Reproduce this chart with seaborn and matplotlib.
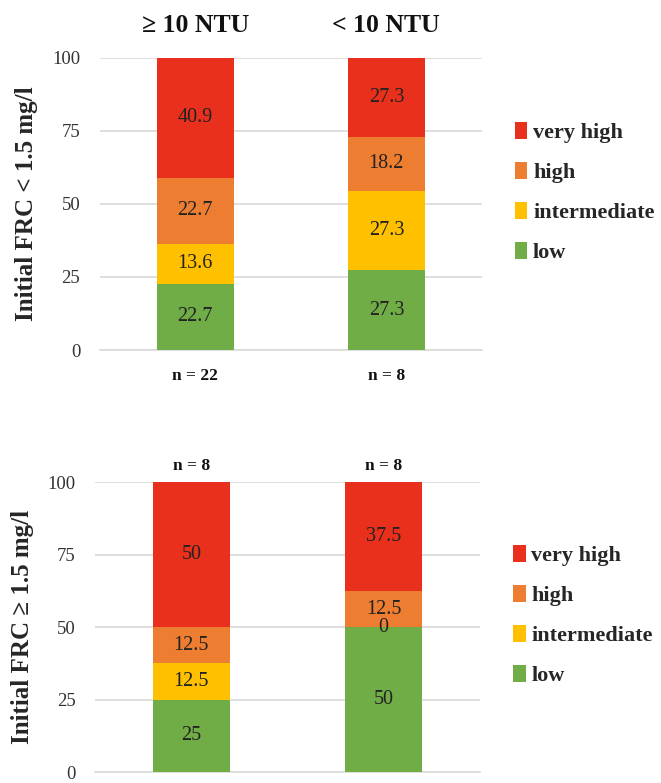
import numpy as np
import pandas as pd
import matplotlib
matplotlib.use("Agg")
import matplotlib.pyplot as plt
from matplotlib.patches import Patch
import seaborn as sns

groups = ["≥ 10 NTU", "< 10 NTU"]
levels = ["low", "intermediate", "high", "very high"]
colors = {"low": "#70AD47", "intermediate": "#FFC000", "high": "#ED7D31", "very high": "#E8301C"}

# Initial FRC < 1.5 mg/l
low_a = [22.7, 27.3]
intermediate_a = [13.6, 27.3]
high_a = [22.7, 18.2]
very_high_a = [40.9, 27.3]
n_a = ["n = 22", "n = 8"]

# Initial FRC >= 1.5 mg/l
low_b = [25, 50]
intermediate_b = [12.5, 0]
high_b = [12.5, 12.5]
very_high_b = [50, 37.5]
n_b = ["n = 8", "n = 8"]

yticks = [0, 25, 50, 75, 100]

sns.set_theme(style="white")
plt.rcParams["font.family"] = ["Liberation Serif", "DejaVu Serif"]

fig = plt.figure(figsize=(6.61, 7.83), dpi=100)
ax_top = fig.add_axes([0.151, 0.553, 0.578, 0.373])
ax_bot = fig.add_axes([0.144, 0.014, 0.582, 0.370])


def stacked(ax, series, ylabel):
    df = pd.DataFrame({lvl: vals for lvl, vals in zip(levels, series)}, index=groups)
    cum = df.cumsum(axis=1)
    # draw cumulative bars from the tallest down so each segment shows
    for lvl in reversed(levels):
        sns.barplot(x=groups, y=cum[lvl].values, color=colors[lvl], width=0.4,
                    saturation=1, ax=ax, zorder=3, linewidth=0)
    for i, g in enumerate(groups):
        base = 0
        for lvl in levels:
            v = df.loc[g, lvl]
            ax.text(i, base + v / 2, f"{v:g}", ha="center", va="center",
                    fontsize=14.5, color="#222222", zorder=4)
            base += v
    ax.set_ylim(0, 100)
    ax.set_xlim(-0.5, 1.5)
    ax.set_yticks(yticks)
    ax.set_yticklabels([str(t) for t in yticks], fontsize=13.5, color="#333333")
    ax.set_xticks([])
    ax.set_xlabel("")
    ax.yaxis.grid(True, color="#d9d9d9", linewidth=1.2, zorder=0)
    ax.set_axisbelow(True)
    for s in ["top", "right", "left"]:
        ax.spines[s].set_visible(False)
    ax.spines["bottom"].set_color("#d9d9d9")
    ax.spines["bottom"].set_linewidth(1.2)
    ax.tick_params(axis="y", length=0, pad=14)
    ax.set_ylabel(ylabel, fontsize=18, fontweight="bold", labelpad=10)
    handles = [Patch(facecolor=colors[l], edgecolor="none") for l in reversed(levels)]
    ax.legend(handles, list(reversed(levels)), loc="center left",
              bbox_to_anchor=(1.035, 0.54), frameon=False, handlelength=0.55,
              handleheight=0.8, handletextpad=0.25, labelspacing=0.85,
              prop={"size": 16, "weight": "bold"})


stacked(ax_top, [low_a, intermediate_a, high_a, very_high_a], "Initial FRC < 1.5 mg/l")
stacked(ax_bot, [low_b, intermediate_b, high_b, very_high_b], "Initial FRC ≥ 1.5 mg/l")

for i, g in enumerate(groups):
    ax_top.text(i, 1.11, g, transform=ax_top.get_xaxis_transform(), ha="center",
                va="center", fontsize=18.5, fontweight="bold", color="#111111")
    ax_top.text(i, -0.09, n_a[i], transform=ax_top.get_xaxis_transform(), ha="center",
                va="center", fontsize=12.5, fontweight="bold", color="#111111")
    ax_bot.text(i, 1.055, n_b[i], transform=ax_bot.get_xaxis_transform(), ha="center",
                va="center", fontsize=12.5, fontweight="bold", color="#111111")

fig.savefig("out.png", dpi=100)
